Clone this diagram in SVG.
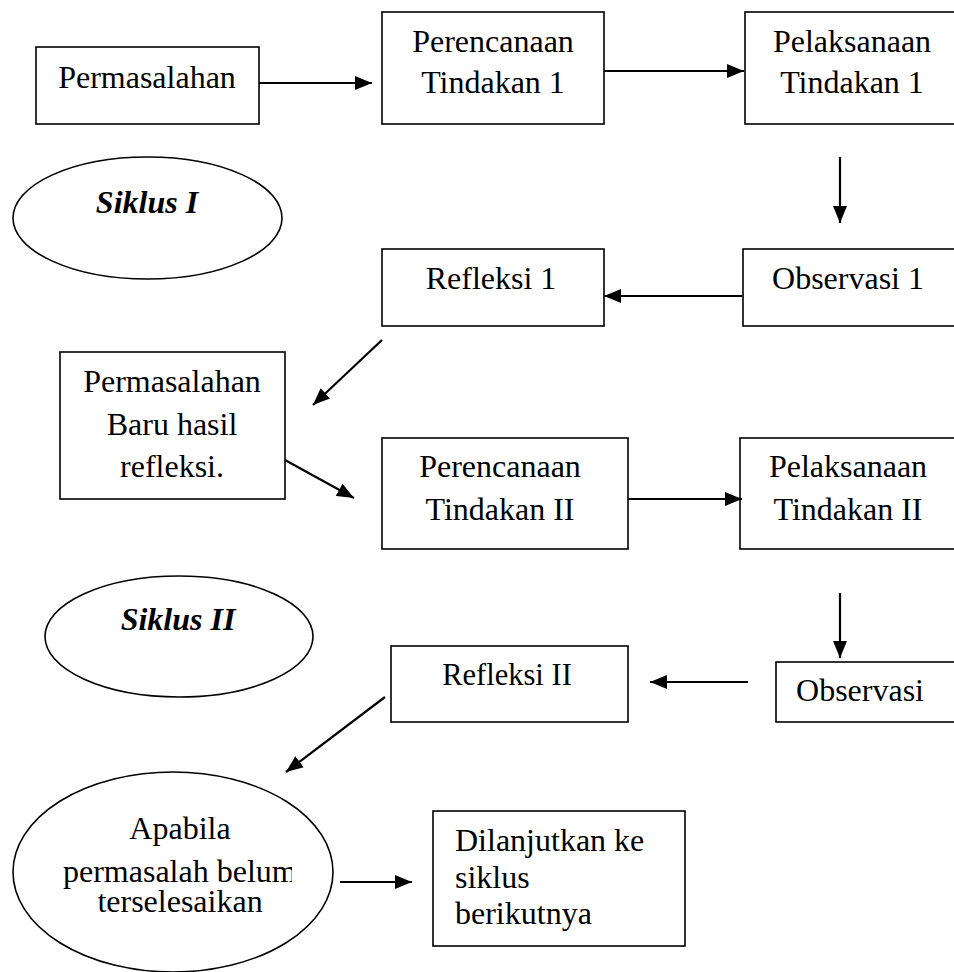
<svg xmlns="http://www.w3.org/2000/svg" width="954" height="972" viewBox="0 0 954 972">
<style>
.box{fill:#fff;stroke:#000;stroke-width:1.6}
.t{font-family:"Liberation Serif","Times New Roman",serif;font-size:32px;fill:#000;text-anchor:middle}
.tl{font-family:"Liberation Serif","Times New Roman",serif;font-size:32px;fill:#000}
.bi{font-weight:bold;font-style:italic}
.c{stroke:#000;stroke-width:2.2;fill:none;marker-end:url(#ah)}
</style>
<defs>
<marker id="ah" markerUnits="userSpaceOnUse" markerWidth="17" markerHeight="14" refX="17" refY="7" orient="auto">
<path d="M0,0 L17,7 L0,14 z" fill="#000"/>
</marker>
<clipPath id="clipA"><rect x="0" y="840" width="292" height="60"/></clipPath>
</defs>
<rect width="954" height="972" fill="#fff"/>
<g id="n-permasalahan">
<rect class="box" x="36" y="47" width="223" height="77"/>
<text class="t" x="147" y="88">Permasalahan</text>
</g>
<g id="n-perencanaan1">
<rect class="box" x="382" y="12" width="222" height="112"/>
<text class="t" x="493" y="52">Perencanaan</text>
<text class="t" x="493" y="93">Tindakan 1</text>
</g>
<g id="n-pelaksanaan1">
<rect class="box" x="745" y="12" width="220" height="112"/>
<text class="t" x="852" y="52">Pelaksanaan</text>
<text class="t" x="852" y="93">Tindakan 1</text>
</g>
<g id="n-siklus1">
<ellipse class="box" cx="147.5" cy="218" rx="134.5" ry="61"/>
<text class="t bi" x="147" y="213">Siklus I</text>
</g>
<g id="n-observasi1">
<rect class="box" x="743" y="249" width="222" height="77"/>
<text class="t" x="848" y="289">Observasi 1</text>
</g>
<g id="n-refleksi1">
<rect class="box" x="382" y="249" width="222" height="77"/>
<text class="t" x="491" y="289">Refleksi 1</text>
</g>
<g id="n-permasalahanbaru">
<rect class="box" x="60" y="352" width="225" height="147"/>
<text class="t" x="172" y="392">Permasalahan</text>
<text class="t" x="172" y="435">Baru hasil</text>
<text class="t" x="172" y="477">refleksi.</text>
</g>
<g id="n-perencanaan2">
<rect class="box" x="382" y="438" width="246" height="111"/>
<text class="t" x="500" y="477">Perencanaan</text>
<text class="t" x="500" y="520">Tindakan II</text>
</g>
<g id="n-pelaksanaan2">
<rect class="box" x="740" y="438" width="225" height="111"/>
<text class="t" x="848" y="477">Pelaksanaan</text>
<text class="t" x="848" y="520">Tindakan II</text>
</g>
<g id="n-siklus2">
<ellipse class="box" cx="179" cy="636.5" rx="134" ry="60.5"/>
<text class="t bi" x="178" y="630">Siklus II</text>
</g>
<g id="n-refleksi2">
<rect class="box" x="391" y="646" width="237" height="76"/>
<text class="t" x="507" y="685" style="font-size:30.5px">Refleksi II</text>
</g>
<g id="n-observasi2">
<rect class="box" x="776" y="662" width="190" height="60"/>
<text class="t" x="860" y="701">Observasi</text>
</g>
<g id="n-apabila">
<ellipse class="box" cx="173" cy="872" rx="160" ry="100"/>
<text class="t" x="180" y="839">Apabila</text>
<text class="tl" x="63" y="882" clip-path="url(#clipA)">permasalah belum</text>
<text class="t" x="180" y="912">terselesaikan</text>
</g>
<g id="n-dilanjutkan">
<rect class="box" x="433" y="811" width="252" height="135"/>
<text class="tl" x="455" y="851">Dilanjutkan ke</text>
<text class="tl" x="455" y="888">siklus</text>
<text class="tl" x="455" y="924">berikutnya</text>
</g>
<g id="connectors">
<line class="c" x1="259" y1="83" x2="372" y2="83"/>
<line class="c" x1="604" y1="71" x2="744" y2="71"/>
<line class="c" x1="840" y1="157" x2="840" y2="223"/>
<line class="c" x1="743" y1="296" x2="604" y2="296"/>
<line class="c" x1="382" y1="340" x2="313" y2="405"/>
<line class="c" x1="285" y1="460" x2="354" y2="498"/>
<line class="c" x1="628" y1="499" x2="742" y2="499"/>
<line class="c" x1="840" y1="593" x2="840" y2="658"/>
<line class="c" x1="748" y1="682" x2="650" y2="682"/>
<line class="c" x1="385" y1="697" x2="286" y2="772"/>
<line class="c" x1="340" y1="882" x2="412" y2="882"/>
</g>
</svg>
